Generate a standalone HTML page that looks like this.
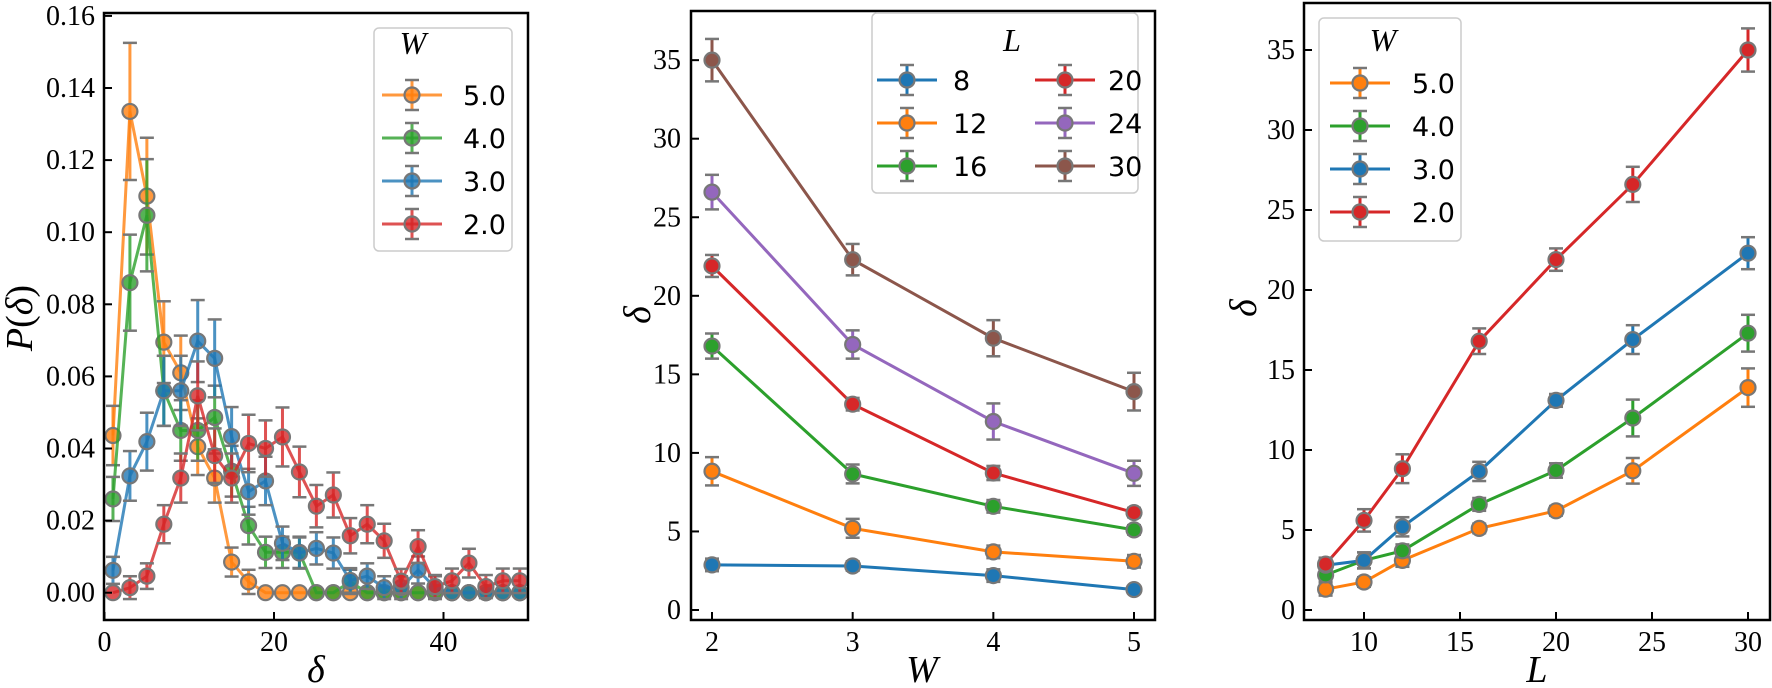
<!DOCTYPE html>
<html><head><meta charset="utf-8"><style>
html,body{margin:0;padding:0;background:#fff;}
svg{display:block;}
.t{font-family:"Liberation Serif",serif;font-size:28px;fill:#000;}
.lg{font-family:"DejaVu Sans","Liberation Sans",sans-serif;font-size:27px;fill:#000;}
.ax{font-family:"Liberation Serif",serif;font-style:italic;font-size:38px;fill:#000;}
</style></head><body>
<svg id="s" width="1772" height="688" viewBox="0 0 1772 688" xmlns="http://www.w3.org/2000/svg"></svg>
<script>
const S=document.getElementById('s');let h='';
const C={b:'#1f77b4',o:'#ff7f0e',g:'#2ca02c',r:'#d62728',p:'#9467bd',n:'#8c564b'};
function pt(x,y,col,e1,e2,op){
 let s='';
 if(e1!==undefined&&e2!==undefined&&Math.abs(e2-e1)>3){
  s+=`<line x1="${x}" y1="${e1}" x2="${x}" y2="${e2}" stroke="${col}" stroke-width="3" opacity="${op}"/>`;
  s+=`<line x1="${x-7}" y1="${e1}" x2="${x+7}" y2="${e1}" stroke="#777" stroke-width="2.5"/>`;
  s+=`<line x1="${x-7}" y1="${e2}" x2="${x+7}" y2="${e2}" stroke="#777" stroke-width="2.5"/>`;
 }
 s+=`<circle cx="${x}" cy="${y}" r="7.5" fill="${col}" fill-opacity="${op}" stroke="#777" stroke-width="2.2"/>`;
 return s;
}
function series(xs,ys,es,X,Y,col,op){
 let d=xs.map((x,i)=>(i?'L':'M')+X(x).toFixed(1)+' '+Y(ys[i]).toFixed(1)).join(' ');
 let s=`<path d="${d}" fill="none" stroke="${col}" stroke-width="3" opacity="${op}"/>`;
 xs.forEach((x,i)=>{s+=pt(X(x),Y(ys[i]),col,Y(ys[i]+es[i]),Y(ys[i]-es[i]),op);});
 return s;
}
function frame(x0,y0,x1,y1){return `<rect x="${x0}" y="${y0}" width="${x1-x0}" height="${y1-y0}" fill="none" stroke="#000" stroke-width="2.5"/>`;}
function yt(x0,ys,Y,fmt,lx){let s='';ys.forEach(v=>{const y=Y(v);s+=`<line x1="${x0}" y1="${y}" x2="${x0+8}" y2="${y}" stroke="#000" stroke-width="2"/><text class="t" x="${lx}" y="${y+9}" text-anchor="end">${fmt(v)}</text>`;});return s;}
function xt(yb,xs,X){let s='';xs.forEach(v=>{const x=X(v);s+=`<line x1="${x}" y1="${yb}" x2="${x}" y2="${yb-8}" stroke="#000" stroke-width="2"/><text class="t" x="${x}" y="${yb+31}" text-anchor="middle">${v}</text>`;});return s;}
function leg(x,y,col,label,lx,op){return `<line x1="${x-30}" y1="${y}" x2="${x+30}" y2="${y}" stroke="${col}" stroke-width="3" opacity="${op}"/>`+pt(x,y,col,y-15,y+15,op)+`<text class="lg" x="${lx}" y="${y+10}">${label}</text>`;}

// Panel 1
{const X=d=>104.5+d*8.475,Y=v=>592.7-v*3605;
 const ds=[];for(let d=1;d<50;d+=2)ds.push(d);
 const z=n=>Array(n).fill(0);
 const O=[0.0436,0.1335,0.110,0.0695,0.061,0.0405,0.0318,0.0085,0.003].concat(z(16));
 const G=[0.026,0.086,0.1047,0.056,0.045,0.045,0.0486,0.0337,0.0186,0.0112,0.0112,0.0112,0,0,0.003].concat(z(10));
 const B=[0.0062,0.0324,0.0419,0.056,0.056,0.0698,0.065,0.0433,0.028,0.031,0.0137,0.011,0.0123,0.011,0.0034,0.0046,0.0014,0.0014,0.0063,0.0014].concat(z(5));
 const R=[0,0.0014,0.0046,0.019,0.0318,0.0546,0.038,0.0318,0.0414,0.040,0.0432,0.0335,0.024,0.0271,0.0158,0.019,0.0144,0.0032,0.0128,0.0017,0.0033,0.0082,0.0017,0.0033,0.0033];
 const E=a=>a.map(v=>v>0.0005?0.12*v+0.003:0);
 h+=series(ds,O,E(O),X,Y,C.o,0.8);h+=series(ds,G,E(G),X,Y,C.g,0.8);h+=series(ds,B,E(B),X,Y,C.b,0.8);h+=series(ds,R,E(R),X,Y,C.r,0.8);
 h+=frame(104,13,528,620);
 h+=yt(104,[0,0.02,0.04,0.06,0.08,0.1,0.12,0.14,0.16],Y,v=>v.toFixed(2),95);
 h+=xt(620,[0,20,40],X);
 h+=`<rect x="374" y="28" width="138" height="223" rx="5" fill="#fff" fill-opacity="0.8" stroke="#ccc" stroke-width="1.5"/>`;
 h+=`<text class="ax" x="413" y="54" text-anchor="middle" style="font-size:32px">W</text>`;
 [[C.o,'5.0'],[C.g,'4.0'],[C.b,'3.0'],[C.r,'2.0']].forEach((c,i)=>h+=leg(412,95+43*i,c[0],c[1],463,0.8));
 h+=`<text class="ax" transform="translate(32,318) rotate(-90)" text-anchor="middle"><tspan>P</tspan><tspan font-style="normal">(</tspan><tspan>δ</tspan><tspan font-style="normal">)</tspan></text>`;
 h+=`<text class="ax" x="316" y="682" text-anchor="middle">δ</text>`;
}
// Panel 2
{const X=w=>712+(w-2)*140.67,Y=v=>610-v*15.71;const W=[2,3,4,5];
 const D=[[C.b,[2.87,2.8,2.19,1.3],[0.4,0.3,0.4,0.2]],[C.o,[8.83,5.2,3.7,3.1],[0.9,0.6,0.4,0.4]],[C.g,[16.8,8.66,6.6,5.1],[0.8,0.6,0.4,0.3]],[C.r,[21.9,13.1,8.72,6.2],[0.7,0.4,0.45,0.3]],[C.p,[26.6,16.9,12.0,8.7],[1.1,0.9,1.15,0.8]],[C.n,[35.0,22.3,17.3,13.9],[1.35,1.0,1.15,1.2]]];
 D.forEach(d=>h+=series(W,d[1],d[2],X,Y,d[0],1));
 h+=frame(691,11,1155,620);
 h+=yt(691,[0,5,10,15,20,25,30,35],Y,v=>v,681);
 h+=xt(620,W,X);
 h+=`<rect x="872" y="13" width="266" height="180" rx="5" fill="#fff" fill-opacity="0.8" stroke="#ccc" stroke-width="1.5"/>`;
 h+=`<text class="ax" x="1012" y="51" text-anchor="middle" style="font-size:32px">L</text>`;
 [[C.b,'8'],[C.o,'12'],[C.g,'16']].forEach((c,i)=>h+=leg(907,80+43*i,c[0],c[1],953,1));
 [[C.r,'20'],[C.p,'24'],[C.n,'30']].forEach((c,i)=>h+=leg(1065,80+43*i,c[0],c[1],1108,1));
 h+=`<text class="ax" transform="translate(650,315) rotate(-90)" text-anchor="middle">δ</text>`;
 h+=`<text class="ax" x="922" y="682" text-anchor="middle">W</text>`;
}
// Panel 3
{const X=l=>1364+(l-10)*19.2,Y=v=>610-v*16;const L=[8,10,12,16,20,24,30];
 const D=[[C.o,[1.3,1.75,3.1,5.1,6.2,8.7,13.9],[0.4,0.3,0.4,0.3,0.3,0.8,1.2]],[C.g,[2.19,3.1,3.7,6.6,8.72,12.0,17.3],[0.4,0.5,0.4,0.4,0.45,1.15,1.15]],[C.b,[2.8,3.1,5.2,8.66,13.1,16.9,22.3],[0.3,0.5,0.6,0.6,0.4,0.9,1.0]],[C.r,[2.87,5.6,8.83,16.8,21.9,26.6,35.0],[0.4,0.7,0.9,0.8,0.7,1.1,1.35]]];
 D.forEach(d=>h+=series(L,d[1],d[2],X,Y,d[0],1));
 h+=frame(1304,3,1770,620);
 h+=yt(1304,[0,5,10,15,20,25,30,35],Y,v=>v,1295);
 h+=xt(620,[10,15,20,25,30],X);
 h+=`<rect x="1319" y="18" width="142" height="223" rx="5" fill="#fff" fill-opacity="0.8" stroke="#ccc" stroke-width="1.5"/>`;
 h+=`<text class="ax" x="1383" y="51" text-anchor="middle" style="font-size:32px">W</text>`;
 [[C.o,'5.0'],[C.g,'4.0'],[C.b,'3.0'],[C.r,'2.0']].forEach((c,i)=>h+=leg(1360,83+43*i,c[0],c[1],1412,1));
 h+=`<text class="ax" transform="translate(1256,308) rotate(-90)" text-anchor="middle">δ</text>`;
 h+=`<text class="ax" x="1537" y="682" text-anchor="middle">L</text>`;
}
S.innerHTML=h;
</script>
</body></html>
